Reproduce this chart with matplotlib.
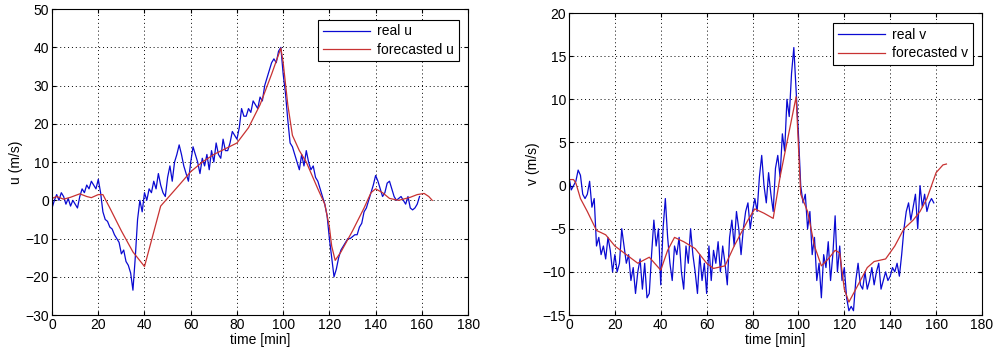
import numpy as np
import matplotlib.pyplot as plt

plt.rcParams['font.family'] = ['Liberation Sans', 'DejaVu Sans']
plt.rcParams['font.size'] = 10

# time axis of the measured series (minutes)
t_real = np.arange(0, 160)

u_real = [-2, 0, 1.5, 0, 2, 1, -1, 0.5, -1.5, 0, -1, -2, 1, 3, 2, 4, 3, 5, 4, 3,
          5.5, 2, -3, -5, -5.5, -7, -7.5, -9, -10, -11, -14, -13, -16, -17, -19, -23.5, -15, -5, 0, -3,
          2, 0, 3, 2, 5, 3, 7, 4, 2, 1, 6, 9, 5, 10, 12, 14.5, 12, 9, 7, 5,
          10, 14, 12, 10, 7, 11, 9, 12, 8, 13, 10, 15, 12, 11, 16, 13, 13, 15, 18, 17,
          16, 19, 24, 22, 22, 24, 23, 26, 25, 24, 27, 26, 30, 32, 34, 36, 37, 36, 39, 40,
          33, 28, 21, 15, 14, 12, 10, 8, 12, 9, 13, 10, 8, 9, 6, 5, 3, 1, -1, -4,
          -10, -15, -20, -18, -15, -13, -12, -11, -10, -10, -9.5, -9, -9, -7, -6, -3, -2, 0, 2, 4,
          6.5, 5, 3, 1, 2, 4.5, 5, 3, 1, 0, 0.5, 1, 0, -1, 1, -2, -2.5, -2, -1, 1]

t_fc_u = [0, 2, 5, 8, 12, 15, 17, 20, 22, 25, 30, 35, 40, 47, 55, 60, 65, 70, 75, 80,
          85, 90, 95, 99, 100, 102, 104, 107, 110, 115, 118, 120, 121, 122.5, 125, 130, 135, 138, 140, 143,
          146, 150, 155, 158, 161, 163, 164.5]
u_fc = [0.5, 1, 0.3, 0.8, 1.7, 1, 0.7, 1.5, 1.5, -2, -8, -13.5, -17.3, -1.5, 4, 7.5, 10, 12, 13.5, 15,
        19, 25, 33, 39.8, 36, 25, 17, 13, 10, 3, -1, -7, -12, -15.7, -13.5, -8, -2, 2, 3, 2,
        0.5, 0, 0.8, 1.5, 1.8, 1, 0]

v_real = [1, -0.5, 0, 0.5, 1.8, 1.2, -1, -1.5, -1, 0.5, -2.5, -1.5, -7, -6, -8, -7, -8.5, -6, -7.5, -10,
          -8, -10, -9, -5, -7, -9, -8, -11, -9.5, -12.5, -10, -8.5, -12, -9, -13, -12.5, -8, -4, -7, -5,
          -11.5, -5, -1.5, -6, -9, -11, -7, -8, -6, -10, -12, -7, -9, -5, -8, -10, -12.5, -8, -11, -9,
          -12.5, -7, -11, -7.5, -9, -6.5, -10, -7, -9, -11.5, -6, -4, -7, -3, -5, -8, -5, -3, -2, -5,
          -3, -1.5, -3, 1, 3.5, 0, -2, 1.5, -1, -3, 2, 3.5, 1, 6, 4, 10, 8, 13, 16, 11,
          6, 0, -2, -1, -5, -3, -8, -6, -11, -9, -13, -8, -9.5, -6.5, -11, -8, -3.5, -10, -7, -11,
          -9.5, -13, -14.5, -14, -14.5, -11, -9, -11.5, -12, -10, -12, -11, -9.5, -11.5, -10, -9, -12, -11, -10, -11,
          -10.5, -9.5, -10, -9, -10.5, -8, -5, -3, -2, -4, -2.5, -1, -5, 0, -2.5, -1, -3, -2, -1.5, -2]

t_fc_v = [0, 2, 3, 5, 8, 12, 16, 20, 25, 30, 35, 40, 43, 46, 50, 55, 60, 63, 68, 72,
          78, 81, 85, 89, 92, 95, 99, 101, 104, 107, 110, 113, 116, 118, 120, 122, 125, 130, 133, 138,
          142, 146, 150, 153, 156, 160, 163, 164.5]
v_fc = [0.7, 0.7, 0.3, -1.5, -3, -5.2, -5.7, -7, -8, -9, -8.3, -9.8, -7.5, -6, -6.5, -7.3, -9, -9.6, -9.3, -7,
        -4, -2.7, -3.2, -3.8, 1, 5, 10.3, -1, -3, -7, -9.3, -8.5, -7.5, -7.8, -12, -13.5, -12, -9.5, -8.8, -8.5,
        -7, -5, -4, -3, -1.5, 1.5, 2.4, 2.5]

blue = '#0a0ad2'
red = '#c83232'

fig = plt.figure(figsize=(10.01, 3.52), dpi=100)
ax1 = fig.add_axes([0.052, 0.105, 0.4156, 0.869])
ax2 = fig.add_axes([0.5684, 0.105, 0.4126, 0.858])

panels = [
    (ax1, u_real, t_fc_u, u_fc, 'real u', 'forecasted u', 'u (m/s)', (-30, 50), 10),
    (ax2, v_real, t_fc_v, v_fc, 'real v', 'forecasted v', 'v (m/s)', (-15, 20), 5),
]

for ax, real, tf, fc, lab_r, lab_f, ylab, ylim, step in panels:
    ax.plot(t_real, real, color=blue, lw=0.9, label=lab_r)
    ax.plot(tf, fc, color=red, lw=0.9, label=lab_f)
    ax.set_xlim(0, 180)
    ax.set_ylim(*ylim)
    ax.set_xticks(np.arange(0, 181, 20))
    ax.set_yticks(np.arange(ylim[0], ylim[1] + 1, step))
    ax.grid(True, color='k', linestyle=(0, (1, 3)), linewidth=0.7)
    ax.tick_params(direction='in', length=3, top=True, right=True, pad=2)
    ax.set_xlabel('time [min]', labelpad=1)
    ax.set_ylabel(ylab, labelpad=2)
    for s in ax.spines.values():
        s.set_linewidth(0.8)
    leg = ax.legend(loc='upper right', bbox_to_anchor=(0.985, 0.975), fancybox=False,
                    framealpha=1, edgecolor='k', borderaxespad=0.2, handlelength=3.4,
                    labelspacing=0.3, borderpad=0.35, handletextpad=0.5)
    leg.get_frame().set_linewidth(0.8)

fig.savefig('out.png', dpi=100)
